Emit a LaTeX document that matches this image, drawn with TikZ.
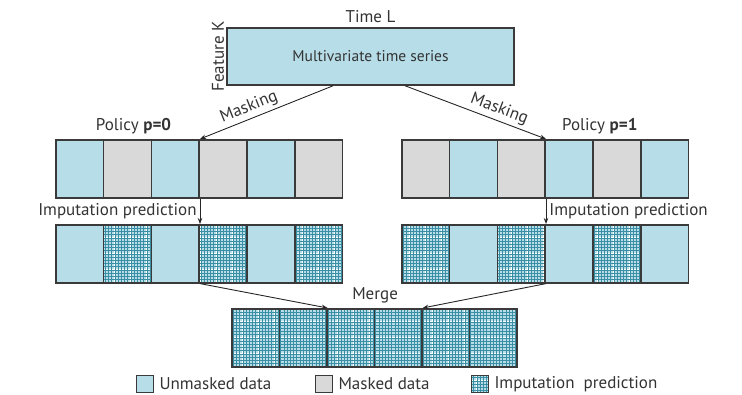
\documentclass[tikz,border=0pt]{standalone}
\usepackage{fontspec}
\setmainfont{PT Sans}
\usetikzlibrary{arrows.meta,positioning,calc}
\definecolor{cellblue}{HTML}{B7DDE8}
\definecolor{cellgray}{HTML}{D9D9D9}
\definecolor{gridteal}{HTML}{3A8FA5}
\definecolor{edgegray}{HTML}{3A3A3A}
\definecolor{txtgray}{HTML}{333333}

\tikzset{
  cell/.style={draw=edgegray, line width=1.6pt, inner sep=0pt, minimum width=47.8pt, minimum height=58pt, anchor=north west},
  unmasked/.style={cell, fill=cellblue},
  masked/.style={cell, fill=cellgray},
  meshfill/.style={fill=cellblue, path picture={
      \draw[white, line width=0.7pt, step=3.2pt, shift={(1.6pt,1.6pt)}] (path picture bounding box.south west) grid (path picture bounding box.north east);
      \draw[gridteal, line width=0.4pt, step=3.2pt] (path picture bounding box.south west) grid (path picture bounding box.north east);}},
  imputed/.style={cell, meshfill},
  lbl/.style={font=\fontsize{17}{19}\selectfont, text=txtgray},
  legbox/.style={draw=edgegray, line width=1pt, inner sep=0pt, minimum width=17pt, minimum height=17pt},
  flow/.style={-{Stealth[length=6pt,width=4.5pt]}, line width=0.9pt, draw=black!85},
}

\begin{document}
\begin{tikzpicture}[x=1pt, y=-1pt]
  \useasboundingbox (0,0) rectangle (742,395);

  % input series
  \node[draw=edgegray, line width=1.6pt, fill=cellblue, minimum width=287pt, minimum height=57pt,
        font=\fontsize{15.5}{18}\selectfont, text=txtgray] (mts) at (370.5,56.5) {Multivariate time series};
  \node[lbl, above=1pt of mts] (timel) {Time L};
  \node[lbl, rotate=90, anchor=south, inner sep=2pt] (featk) at (mts.west) {Feature K};

  % masked rows
  \foreach \s [count=\i] in {unmasked,masked,unmasked,masked,unmasked,masked}
    \node[\s] (pa\i) at ({55+47.8*(\i-1)},139) {};
  \foreach \s [count=\i] in {masked,unmasked,masked,unmasked,masked,unmasked}
    \node[\s] (pb\i) at ({401+47.8*(\i-1)},139) {};

  % imputed rows
  \foreach \s [count=\i] in {unmasked,imputed,unmasked,imputed,unmasked,imputed}
    \node[\s] (ia\i) at ({55+47.8*(\i-1)},224) {};
  \foreach \s [count=\i] in {imputed,unmasked,imputed,unmasked,imputed,unmasked}
    \node[\s] (ib\i) at ({401+47.8*(\i-1)},224) {};

  % merged row
  \foreach \i in {1,...,6}
    \node[imputed, minimum width=47.5pt] (mg\i) at ({231+47.5*(\i-1)},308) {};

  \node[lbl, above=1pt of pa2.north, xshift=6pt] (pol0) {Policy \textbf{p=0}};
  \node[lbl, above=1pt of pb4.north east, xshift=6pt] (pol1) {Policy \textbf{p=1}};
  \node[lbl, above=1pt of mg3.north east] (merge) {Merge};

  % connectors
  \coordinate (mL) at ($(mts.south west)!0.37!(mts.south east)$);
  \coordinate (mR) at ($(mts.south west)!0.62!(mts.south east)$);
  \draw[flow] (mL) -- (pa3.north east) node[lbl, pos=0.6, sloped, above, inner sep=3pt] {Masking};
  \draw[flow] (mR) -- (pb3.north east) node[lbl, pos=0.64, sloped, above, inner sep=3pt] {Masking};
  \draw[flow] (pa3.south east) -- (ia3.north east) node[lbl, midway, left, inner sep=3pt] {Imputation prediction};
  \draw[flow] (pb3.south east) -- (ib3.north east) node[lbl, midway, right, inner sep=3pt] {Imputation prediction};
  \draw[flow] (ia3.south east) -- (mg2.north east);
  \draw[flow] (ib3.south east) -- (mg4.north east);

  % legend
  \node[legbox, fill=cellblue] (k1) at (145,384) {};
  \node[lbl, right=2pt of k1] (t1) {Unmasked data};
  \node[legbox, fill=cellgray] (k2) at (324,384) {};
  \node[lbl, right=2pt of k2] (t2) {Masked data};
  \node[legbox, meshfill] (k3) at (480,384) {};
  \node[lbl, right=2pt of k3] (t3) {Imputation\ \ prediction};
\end{tikzpicture}
\end{document}
